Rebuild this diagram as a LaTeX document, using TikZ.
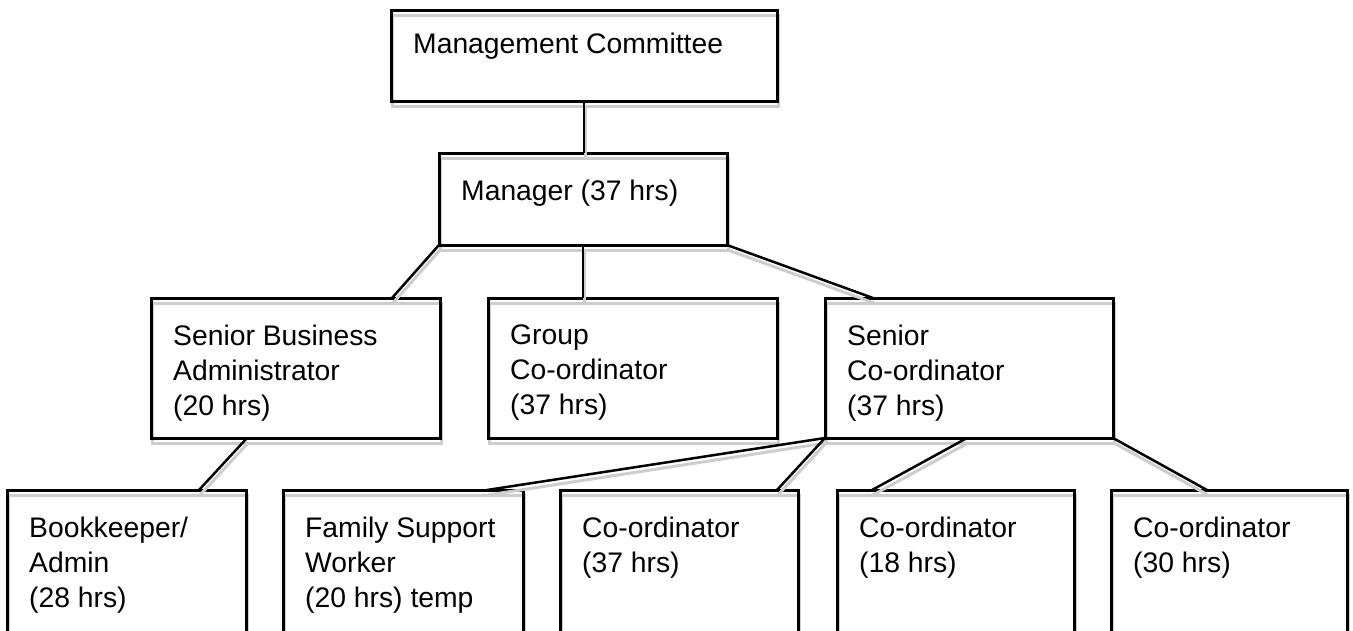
\documentclass[tikz,border=0pt]{standalone}
\usepackage{fontspec}
\setmainfont{Liberation Sans}
\usetikzlibrary{positioning,calc}
\definecolor{shadowgray}{RGB}{205,205,205}

\begin{document}
\begin{tikzpicture}[x=1pt, y=-1pt, font=\fontsize{28.3}{35}\selectfont]
\tikzstyle{post} = [rectangle, draw, line width=3pt, anchor=north west, inner sep=0pt, outer sep=0pt, preaction={draw=shadowgray, transform canvas={shift={(1,5)}}}]
\tikzstyle{caption} = [anchor=north west, align=left, inner sep=0pt, xshift=22pt, yshift=-27pt]
\tikzstyle{line} = [line width=2.5pt, preaction={draw=shadowgray, line width=3pt, transform canvas={shift={(1,5)}}}]

\useasboundingbox (0,0) rectangle (1353,630);
\clip (0,0) rectangle (1353,630);

% top
\node (Committee) [post, minimum width=386pt, minimum height=91pt, label={[caption, yshift=4pt]north west:Management Committee}] at (391,10) {};
\node (Manager) [post, minimum width=288pt, minimum height=92pt, label={[caption]north west:Manager (37 hrs)}] at (439,153) {};

% middle row
\node (SeniorAdmin) [post, minimum width=289pt, minimum height=140pt, label={[caption]north west:Senior Business\\Administrator\\(20 hrs)}] at (151,298) {};
\node (GroupCoord) [post, minimum width=289pt, minimum height=140pt, label={[caption]north west:Group\\Co-ordinator\\(37 hrs)}] at (488,298) {};
\node (SeniorCoord) [post, minimum width=288pt, minimum height=140pt, label={[caption]north west:Senior\\Co-ordinator\\(37 hrs)}] at (825,298) {};

% bottom row
\node (Bookkeeper) [post, minimum width=239pt, minimum height=170pt, label={[caption]north west:Bookkeeper/\\Admin\\(28 hrs)}] at (7,490) {};
\node (FamilyWorker) [post, minimum width=240pt, minimum height=170pt, label={[caption]north west:Family Support\\Worker\\(20 hrs) temp}] at (283,490) {};
\node (Coord37) [post, minimum width=238pt, minimum height=170pt, label={[caption]north west:Co-ordinator\\(37 hrs)}] at (560,490) {};
\node (Coord18) [post, minimum width=237pt, minimum height=170pt, label={[caption]north west:Co-ordinator\\(18 hrs)}] at (837,490) {};
\node (Coord30) [post, minimum width=236pt, minimum height=170pt, label={[caption]north west:Co-ordinator\\(30 hrs)}] at (1111,490) {};

\draw [line] (Committee.south) -- (Committee.south |- Manager.north);
\draw [line] (Manager.south west) -- ($(SeniorAdmin.north east)+(-48,0)$);
\draw [line] (Manager.south) -- (Manager.south |- GroupCoord.north);
\draw [line] (Manager.south east) -- ($(SeniorCoord.north west)+(48,0)$);
\draw [line] ($(SeniorAdmin.south west)+(96,0)$) -- ($(Bookkeeper.north east)+(-47,0)$);
\draw [line] (SeniorCoord.south west) -- ($(FamilyWorker.north east)+(-36,0)$);
\draw [line] (SeniorCoord.south west) -- ($(Coord37.north east)+(-21,0)$);
\draw [line] ($(SeniorCoord.south west)+(142,0)$) -- ($(Coord18.north west)+(35,0)$);
\draw [line] (SeniorCoord.south east) -- ($(Coord30.north west)+(96,0)$);
\end{tikzpicture}
\end{document}
